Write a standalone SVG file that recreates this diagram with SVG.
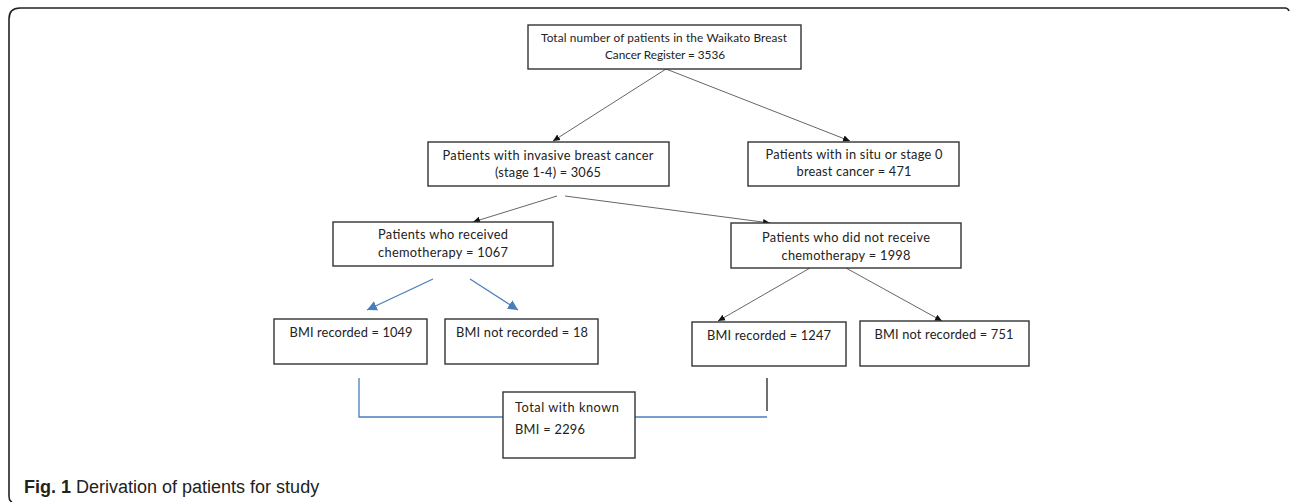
<svg xmlns="http://www.w3.org/2000/svg" width="1290" height="502" viewBox="0 0 1290 502">
<defs>
<style>
.frame{fill:none;stroke:#222;stroke-width:1.6}
.box{fill:#fff;stroke:#333;stroke-width:1.4}
.t{font-family:Lato,"Liberation Sans",Arial,sans-serif;font-size:12.8px;fill:#222;text-anchor:middle}
.ts{font-size:11.8px}
.tl{font-family:Lato,"Liberation Sans",Arial,sans-serif;font-size:12.8px;fill:#222}
.g{fill:none;stroke:#666;stroke-width:1}
.b{fill:none;stroke:#4a7ebb;stroke-width:1.3}
.k{fill:none;stroke:#333;stroke-width:1.4}
.cap{font-family:"Liberation Sans",Arial,sans-serif;font-size:18px;fill:#222}
</style>
<marker id="ah" markerWidth="8" markerHeight="8" refX="7" refY="4" orient="auto" markerUnits="userSpaceOnUse">
<path d="M0,0.8 L7,4 L0,7.2 Z" fill="#111"/>
</marker>
<marker id="ab" markerWidth="12" markerHeight="12" refX="10" refY="5" orient="auto" markerUnits="userSpaceOnUse">
<path d="M0,0 L10,5 L0,10 Z" fill="#4a7ebb"/>
</marker>
</defs>
<path class="frame" d="M1289,11 Q1288,8 1285,8 L20,8 Q9,8 9,19 L9,496 Q9,501 12,502"/>
<g id="connectors">
<line class="g" x1="666" y1="69" x2="553" y2="141" marker-end="url(#ah)"/>
<line class="g" x1="666" y1="69" x2="850" y2="141" marker-end="url(#ah)"/>
<line class="g" x1="557" y1="196" x2="473" y2="222" marker-end="url(#ah)"/>
<line class="g" x1="565" y1="196" x2="770" y2="223" marker-end="url(#ah)"/>
<line class="b" x1="433" y1="279" x2="367" y2="310" marker-end="url(#ab)"/>
<line class="b" x1="470" y1="279" x2="518" y2="310" marker-end="url(#ab)"/>
<line class="g" x1="810" y1="268" x2="718" y2="321" marker-end="url(#ah)"/>
<line class="g" x1="846" y1="268" x2="942" y2="321" marker-end="url(#ah)"/>
<path class="b" d="M359,378 L359,417 L503,417"/>
<path class="b" d="M635,417 L767,417"/>
<line class="k" x1="767" y1="378" x2="767" y2="411"/>
</g>
<g id="n-total">
<rect class="box" x="528" y="25" width="273" height="44"/>
<text class="t ts" x="664" y="42" textLength="246">Total number of patients in the Waikato Breast</text>
<text class="t ts" x="665" y="59" textLength="120">Cancer Register = 3536</text>
</g>
<g id="n-invasive">
<rect class="box" x="428" y="142" width="241" height="44"/>
<text class="t" x="548" y="160" textLength="211">Patients with invasive breast cancer</text>
<text class="t" x="548" y="177" textLength="106">(stage 1-4) = 3065</text>
</g>
<g id="n-insitu">
<rect class="box" x="748" y="142" width="211" height="44"/>
<text class="t" x="854" y="159" textLength="177">Patients with in situ or stage 0</text>
<text class="t" x="854" y="176" textLength="115">breast cancer = 471</text>
</g>
<g id="n-chemo">
<rect class="box" x="333" y="222" width="220" height="44"/>
<text class="t" x="443" y="239" textLength="130">Patients who received</text>
<text class="t" x="443" y="257" textLength="130">chemotherapy = 1067</text>
</g>
<g id="n-nochemo">
<rect class="box" x="731" y="223" width="230" height="45"/>
<text class="t" x="846" y="242" textLength="168">Patients who did not receive</text>
<text class="t" x="846" y="260" textLength="129">chemotherapy = 1998</text>
</g>
<g id="n-bmi1049">
<rect class="box" x="274" y="319" width="153" height="45"/>
<text class="t" x="351" y="337" textLength="123">BMI recorded = 1049</text>
</g>
<g id="n-bmi18">
<rect class="box" x="445" y="319" width="153" height="45"/>
<text class="t" x="522" y="337" textLength="132">BMI not recorded = 18</text>
</g>
<g id="n-bmi1247">
<rect class="box" x="692" y="322" width="154" height="44"/>
<text class="t" x="769" y="340" textLength="124">BMI recorded = 1247</text>
</g>
<g id="n-bmi751">
<rect class="box" x="860" y="321" width="169" height="45"/>
<text class="t" x="944" y="339" textLength="139">BMI not recorded = 751</text>
</g>
<g id="n-known">
<rect class="box" x="503" y="392" width="132" height="66"/>
<text class="tl" x="515" y="412" textLength="104">Total with known</text>
<text class="tl" x="515" y="434" textLength="70">BMI = 2296</text>
</g>
<text class="cap" x="24" y="493"><tspan font-weight="bold">Fig. 1</tspan> Derivation of patients for study</text>
</svg>
